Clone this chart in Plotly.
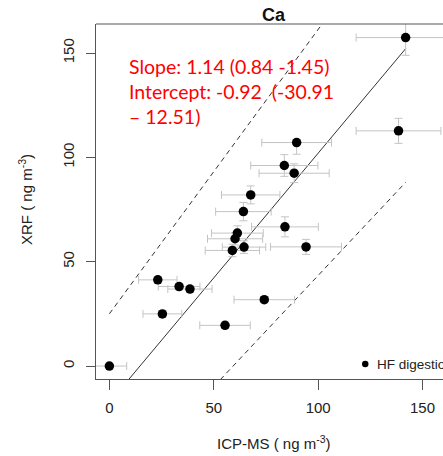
import plotly.graph_objects as go

# ---- data ----
icpms = [141.9, 138.5, 89.7, 83.8, 88.5, 67.7, 64.2, 84.1, 61.3, 60.2,
         64.5, 58.9, 94.2, 74.2, 23.2, 33.4, 38.6, 25.4, 55.4, 0.0]
xrf = [157.4, 112.7, 107.1, 96.1, 92.4, 82.0, 74.0, 66.7, 63.7, 61.0,
       57.0, 55.4, 57.1, 31.8, 41.3, 38.1, 36.9, 25.0, 19.5, 0.0]
icpms_err = [23.7, 20.3, 16.7, 16.1, 16.8, 14.0, 13.3, 16.0, 12.4, 13.2,
             10.4, 13.0, 17.0, 14.5, 9.2, 10.0, 10.6, 9.3, 12.1, 8.3]
xrf_err_plus = [8.5, 6.0, 1.5, 5.2, 4.5, 4.3, 4.4, 4.8, 3.5, 3.0,
                3.0, 3.0, 3.6, 1.5, 1.5, 1.5, 1.5, 1.5, 1.5, 0.5]
xrf_err_minus = [8.5, 6.0, 5.6, 5.2, 4.5, 4.3, 4.4, 4.8, 3.5, 3.0,
                 3.0, 3.0, 3.6, 1.5, 1.5, 1.5, 1.5, 1.5, 1.5, 0.5]

# fitted line and band (as drawn)
line_x = [0.0, 141.9]
fit_intercept, fit_slope = -17.5, 1.195
upper_intercept, upper_slope = 25.0, 1.363
lower_intercept, lower_slope = -63.1, 1.065

tick_vals = [0, 50, 100, 150]
tick_text = ["0", "50", "100", "150"]

x_range = [-6.4, 159.8]
y_range = [-6.2, 163.9]

fig = go.Figure()

line_col = "#333333"
fig.add_trace(go.Scatter(x=line_x, y=[fit_intercept + fit_slope * v for v in line_x],
                         mode="lines", line=dict(color=line_col, width=1), showlegend=False,
                         hoverinfo="skip"))
fig.add_trace(go.Scatter(x=line_x, y=[upper_intercept + upper_slope * v for v in line_x],
                         mode="lines", line=dict(color=line_col, width=1, dash="5px,4px"),
                         showlegend=False, hoverinfo="skip"))
fig.add_trace(go.Scatter(x=line_x, y=[lower_intercept + lower_slope * v for v in line_x],
                         mode="lines", line=dict(color=line_col, width=1, dash="5px,4px"),
                         showlegend=False, hoverinfo="skip"))

fig.add_trace(go.Scatter(
    x=icpms, y=xrf, mode="markers",
    marker=dict(color="black", size=9.5),
    error_x=dict(type="data", array=icpms_err, color="#c4c4c4", thickness=1, width=4),
    error_y=dict(type="data", array=xrf_err_plus, arrayminus=xrf_err_minus,
                 color="#c4c4c4", thickness=1, width=4),
    showlegend=False, name="HF digestion"))

L, T, B = 96, 24, 77
H = 456 - T - B
W = 443 - L

def px(xp):
    return (xp - L) / W

def py(yp):
    return (456 - B - yp) / H

axis_font = dict(family="Liberation Sans, Arial, sans-serif", size=15, color="#222222")
red_font = dict(family="Lato, sans-serif", size=19.5, color="#ff0000")

fig.update_layout(
    width=443, height=456,
    margin=dict(l=L, r=0, t=T, b=B),
    paper_bgcolor="white", plot_bgcolor="white",
    xaxis=dict(range=x_range, tickvals=tick_vals, ticktext=tick_text, showgrid=False,
               zeroline=False, showline=True, linecolor="#555555", linewidth=1,
               ticks="outside", ticklen=10, tickcolor="#555555", tickfont=axis_font,
               ticklabelstandoff=5),
    yaxis=dict(range=y_range, tickvals=tick_vals, ticktext=tick_text, showgrid=False,
               zeroline=False, showline=True, linecolor="#555555", linewidth=1,
               ticks="outside", ticklen=9, tickcolor="#555555", tickfont=axis_font,
               tickangle=-90, ticklabelstandoff=6),
    shapes=[
        dict(type="line", xref="paper", yref="paper", x0=0, x1=1, y0=1, y1=1,
             line=dict(color="#555555", width=1)),
        dict(type="circle", xref="paper", yref="paper",
             x0=px(362), x1=px(368.5), y0=py(367.3), y1=py(360.8),
             fillcolor="black", line=dict(color="black", width=0)),
    ],
    annotations=[
        dict(text="<b>Ca</b>", xref="paper", yref="paper", x=px(274), y=py(15),
             showarrow=False, xanchor="center", yanchor="middle",
             font=dict(family="Liberation Sans, Arial, sans-serif", size=18, color="#111111")),
        dict(text="XRF ( ng m<sup>-3</sup>)", xref="paper", yref="paper", x=px(25), y=py(200),
             textangle=-90, showarrow=False, xanchor="center", yanchor="middle",
             font=axis_font),
        dict(text="ICP-MS ( ng m<sup>-3</sup>)", xref="paper", yref="paper", x=px(274), y=py(442),
             showarrow=False, xanchor="center", yanchor="middle", font=axis_font),
        dict(text="Slope: 1.14 (0.84 -1.45)", xref="paper", yref="paper", x=px(127), y=py(67),
             showarrow=False, xanchor="left", yanchor="middle", font=red_font),
        dict(text="Intercept: -0.92  (-30.91", xref="paper", yref="paper", x=px(127), y=py(91.7),
             showarrow=False, xanchor="left", yanchor="middle", font=red_font),
        dict(text="– 12.51)", xref="paper", yref="paper", x=px(127), y=py(116.4),
             showarrow=False, xanchor="left", yanchor="middle", font=red_font),
        dict(text="HF digestion", xref="paper", yref="paper", x=px(375), y=py(364),
             showarrow=False, xanchor="left", yanchor="middle",
             font=dict(family="Liberation Sans, Arial, sans-serif", size=13.5, color="#222222")),
    ],
)

fig.write_html("out.html", config={"displayModeBar": False},
               post_script="document.body.style.margin='0';document.body.style.overflow='hidden';")
